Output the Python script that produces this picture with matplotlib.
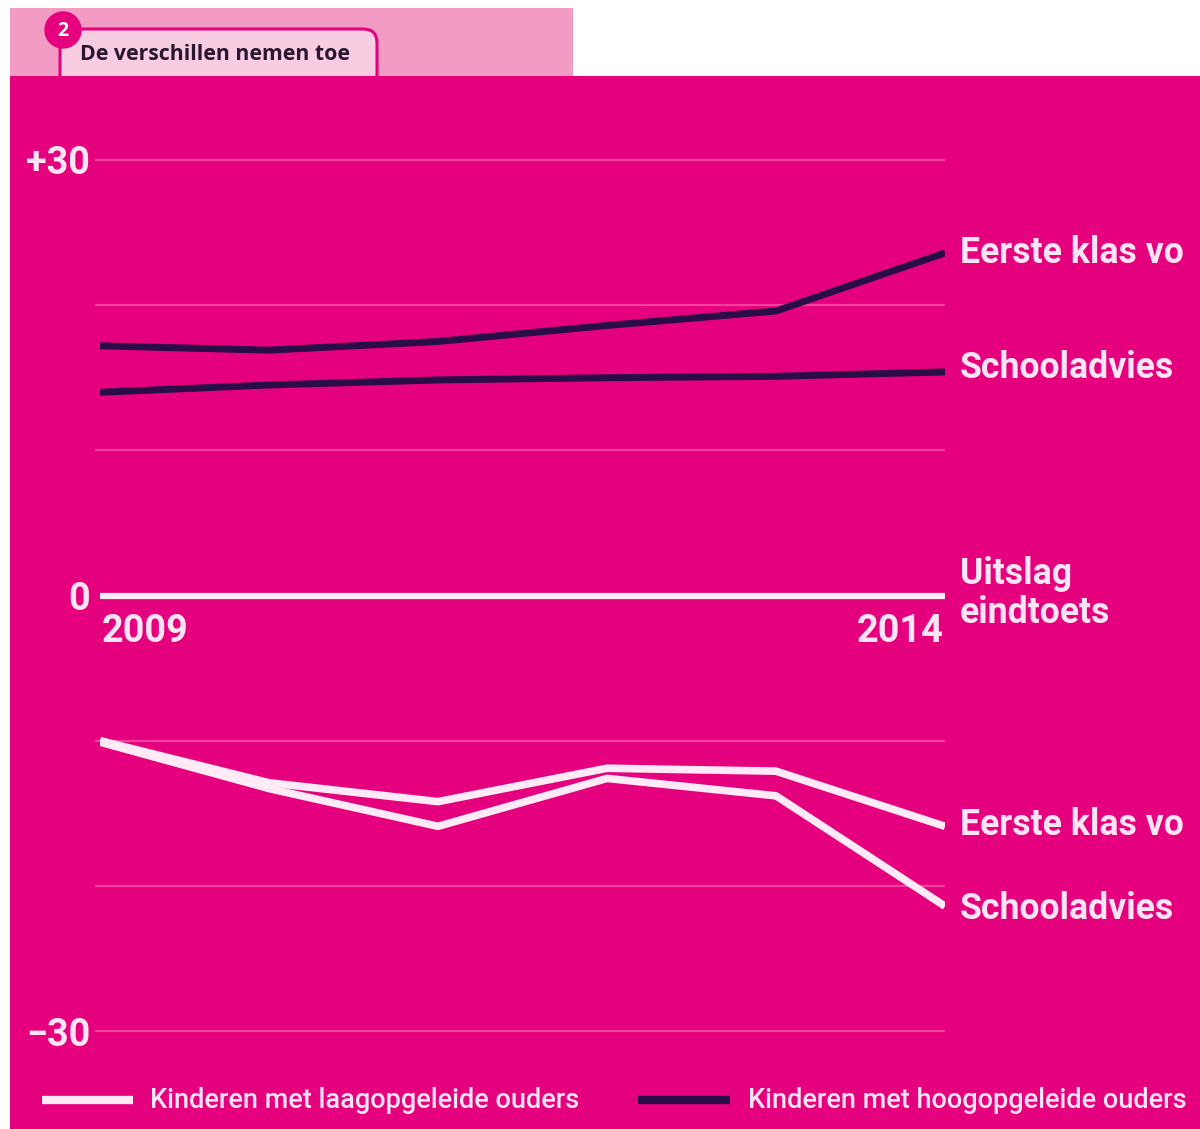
import matplotlib
matplotlib.use("Agg")
import matplotlib.pyplot as plt
from matplotlib.patches import Rectangle, FancyBboxPatch, Circle

# data
years = [2009, 2010, 2011, 2012, 2013, 2014]
hoog_eerste_klas = [17.2, 16.9, 17.5, 18.6, 19.6, 23.6]
hoog_schooladvies = [14.0, 14.5, 14.85, 15.0, 15.1, 15.4]
laag_eerste_klas = [-10.0, -12.9, -14.2, -11.9, -12.1, -15.9]
laag_schooladvies = [-10.1, -13.3, -15.9, -12.6, -13.8, -21.4]

grid_values = [-30, -20, -10, 10, 20, 30]
ytick_values = [-30, 0, 30]
ytick_labels = ["\u221230", "0", "+30"]
year_labels = ["2009", "2014"]

MAGENTA = "#E5007D"
GRID = "#F2409F"
DARK = "#2A0C46"
LIGHT = "#FFEAF6"
TEXT = "#FFE4F3"

FONT = "Roboto"

W, H = 1200, 1129
fig = plt.figure(figsize=(W / 100, H / 100), dpi=100, facecolor="white")
renderer = fig.canvas.get_renderer()


def fit_size(txt, width_px, weight="bold", family=FONT):
    # font size that makes txt about width_px wide
    t = fig.text(0, 0, txt, fontsize=20, fontweight=weight, family=family)
    w = t.get_window_extent(renderer=renderer).width
    t.remove()
    return 20 * width_px / w


label_size = fit_size("Eerste klas vo", 223)
tick_size = fit_size("+30", 64)
legend_size = fit_size("Kinderen met laagopgeleide ouders", 430, weight="medium")
title_size = fit_size("De verschillen nemen toe", 270, family="Open Sans")

# background layer in pixel coordinates
bg = fig.add_axes([0, 0, 1, 1])
bg.set_xlim(0, W)
bg.set_ylim(H, 0)
bg.axis("off")
bg.add_patch(Rectangle((10, 8), 563, 70, color="#F29BC3", lw=0))
bg.add_patch(Rectangle((10, 76), W - 10, H - 76, color=MAGENTA, lw=0))
bg.add_patch(FancyBboxPatch((60, 29), 317, 60, boxstyle="round,pad=0,rounding_size=14",
                            fc="#F8CDE2", ec=MAGENTA, lw=2.2, clip_on=False))
bg.add_patch(Rectangle((10, 76), W - 10, 20, color=MAGENTA, lw=0))
bg.add_patch(Circle((63, 30), 18, color=MAGENTA))
bg.text(63, 31, "2", color="white", fontsize=14, fontweight="bold",
        ha="center", va="center", family="Open Sans")
bg.text(80, 54, "De verschillen nemen toe", color="#2A1630", fontsize=title_size,
        fontweight="bold", ha="left", va="center", family="Open Sans")

# legend, drawn by hand
bg.plot([42, 133], [1100, 1100], color=LIGHT, lw=6, solid_capstyle="butt")
bg.text(150, 1100, "Kinderen met laagopgeleide ouders", color=TEXT, fontsize=legend_size,
        fontweight="medium", ha="left", va="center", family=FONT)
bg.plot([638, 730], [1100, 1100], color=DARK, lw=6, solid_capstyle="butt")
bg.text(748, 1100, "Kinderen met hoogopgeleide ouders", color=TEXT, fontsize=legend_size,
        fontweight="medium", ha="left", va="center", family=FONT)

# chart
ax = fig.add_axes([100 / W, (H - 1031) / H, 845 / W, 871 / H])
ax.patch.set_alpha(0)
ax.set_xlim(2009, 2014)
ax.set_ylim(-30, 30)
for s in ax.spines.values():
    s.set_visible(False)

ax.hlines(grid_values, 2008.97, 2014, color=GRID, lw=1.6, clip_on=False, zorder=1)
ax.hlines(0, 2009, 2014, color=LIGHT, lw=4.5, zorder=2)

ax.plot(years, hoog_eerste_klas, color=DARK, lw=5, zorder=3, solid_capstyle="butt")
ax.plot(years, hoog_schooladvies, color=DARK, lw=5, zorder=3, solid_capstyle="butt")
ax.plot(years, laag_eerste_klas, color=LIGHT, lw=5.5, zorder=3, solid_capstyle="butt")
ax.plot(years, laag_schooladvies, color=LIGHT, lw=5.5, zorder=3, solid_capstyle="butt")

ax.set_xticks([])
ax.set_yticks(ytick_values, ytick_labels)
ax.tick_params(axis="y", length=0, pad=7, labelsize=tick_size, labelcolor=TEXT)
for lbl in ax.get_yticklabels():
    lbl.set_family(FONT)
    lbl.set_fontweight("bold")

ax.text(years[0] + 0.01, -1.2, year_labels[0], color=TEXT, fontsize=tick_size,
        fontweight="bold", ha="left", va="top", family=FONT)
ax.text(years[-1] - 0.01, -1.2, year_labels[1], color=TEXT, fontsize=tick_size,
        fontweight="bold", ha="right", va="top", family=FONT)

# series labels at line ends
lab = dict(color=TEXT, fontsize=label_size, fontweight="bold", ha="left", va="center",
           family=FONT, clip_on=False)
ax.text(2014.09, hoog_eerste_klas[-1], "Eerste klas vo", **lab)
ax.text(2014.09, hoog_schooladvies[-1] + 0.3, "Schooladvies", **lab)
ax.text(2014.09, 1.5, "Uitslag", **lab)
ax.text(2014.09, -1.2, "eindtoets", **lab)
ax.text(2014.09, laag_eerste_klas[-1] + 0.1, "Eerste klas vo", **lab)
ax.text(2014.09, laag_schooladvies[-1] - 0.2, "Schooladvies", **lab)

fig.savefig("out.png", dpi=100, facecolor="white")
